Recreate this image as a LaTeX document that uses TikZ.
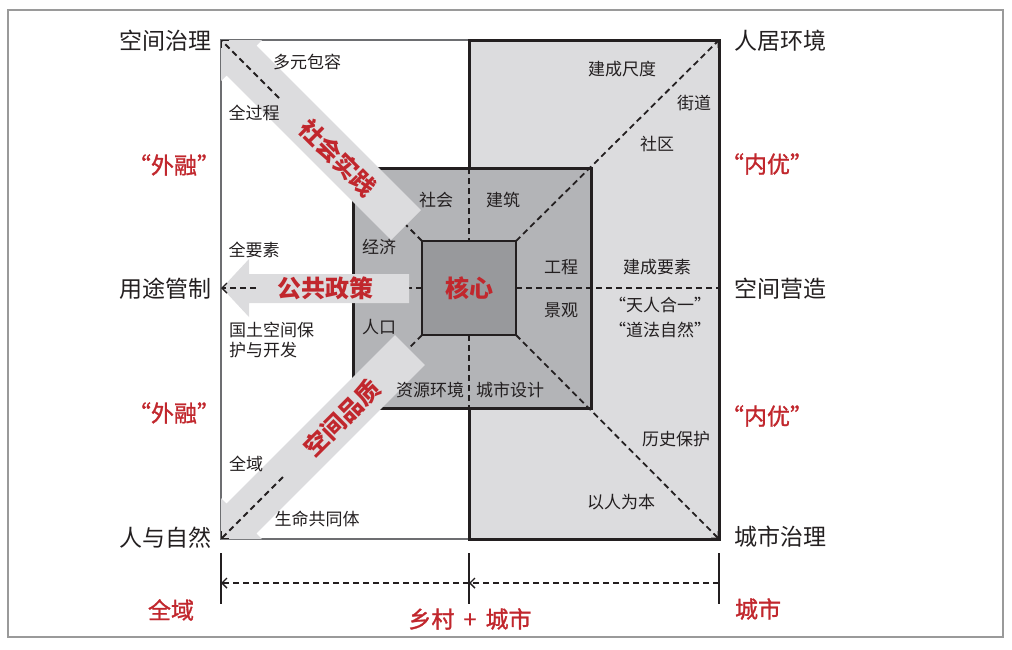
\documentclass[tikz,border=0pt]{standalone}
\usepackage{fontspec}
\setmainfont{Noto Sans CJK SC}
\newfontfamily\redf[FakeBold=1.2]{Noto Sans CJK SC}
\usetikzlibrary{arrows.meta}
\definecolor{ink}{HTML}{231F20}
\definecolor{redc}{HTML}{C1272D}
\definecolor{lightg}{HTML}{DCDCDE}
\definecolor{midg}{HTML}{B3B4B7}
\definecolor{coreg}{HTML}{98999C}
\definecolor{framec}{HTML}{9A9A9A}
\definecolor{edgeg}{HTML}{6D6E71}
\begin{document}
\begin{tikzpicture}[x=1pt,y=-1pt,
  lab/.style={text=ink,font=\fontsize{17}{19}\selectfont,inner sep=0pt},
  big/.style={text=ink,font=\fontsize{23}{25}\selectfont,inner sep=0pt},
  redlab/.style={text=redc,font=\redf\fontsize{23}{25}\selectfont,inner sep=0pt},
  redbold/.style={text=redc,font=\fontsize{24}{26}\selectfont\bfseries,inner sep=0pt},
  dline/.style={draw=ink,line width=1.8pt,dash pattern=on 6pt off 4pt},
  tipA/.style={-{Straight Barb[length=5pt,width=10pt,line width=1.4pt]}},
  band/.style={fill=lightg,draw=none},
  thickb/.style={draw=ink,line width=3pt,line join=miter},
]
\useasboundingbox (0,0) rectangle (1012,649);
% outer frame
\draw[framec,line width=1.5pt] (8,10) rectangle (1003,637);
% key points
\coordinate (LT) at (221,40);
\coordinate (LB) at (221,539);
\coordinate (LM) at (221,288);
\coordinate (RT) at (719,40);
\coordinate (RB) at (719,539);
\coordinate (RM) at (719,288);
\coordinate (cTL) at (422,241);
\coordinate (cTR) at (516,241);
\coordinate (cBL) at (422,335);
\coordinate (cBR) at (516,335);
\coordinate (cL) at (422,288);
\coordinate (cR) at (516,288);
\coordinate (cT) at (469,241);
\coordinate (cB) at (469,335);
\coordinate (mT) at (469,168);
\coordinate (mB) at (469,408);
% right box fill
\fill[lightg] (469,40) rectangle (719,539);
% middle square fill
\fill[midg] (353,168) rectangle (591,408);
% dashed guide lines
\draw[dline] (cTL) -- (LT);
\draw[dline] (cBL) -- (LB);
\draw[dline] (cL) -- (LM);
\draw[dline,tipA] (cTR) -- (RT);
\draw[dline,tipA] (cBR) -- (RB);
\draw[dline] (cR) -- (RM);
\draw[dline] (mT) -- (cT);
\draw[dline] (cB) -- (mB);
% left box outline
\draw[edgeg,line width=1.4pt] (469,40) -- (221,40) -- (221,539) -- (469,539);
% right box border
\draw[thickb] (mT) -- (469,40) -- (719,40) -- (719,539) -- (469,539) -- (mB);
% middle square border
\draw[thickb] (353,168) rectangle (591,408);
% core
\filldraw[fill=coreg,draw=ink,line width=2pt] (422,241) rectangle (516,335);
% block arrows
\fill[band] (222,288) -- (249,259) -- (249,274) -- (409,274) -- (409,303) -- (249,303) -- (249,317) -- cycle;
\fill[band] (221,40) -- (262,40) -- (256.4,45.6) -- (420.9,210.1) -- (391.1,239.9) -- (226.6,75.4) -- (221,81) -- cycle;
\fill[band] (221,539) -- (221,498) -- (226.6,503.6) -- (395.1,335.1) -- (424.9,364.9) -- (256.4,533.4) -- (262,539) -- cycle;
% short dashed arrows on the arrow heads
\coordinate (hT) at (279,98);
\coordinate (hB) at (283,477);
\coordinate (hM) at (256,288);
\draw[dline,tipA] (hT) -- (LT);
\draw[dline,tipA] (hB) -- (LB);
\draw[dline,tipA] (hM) -- (LM);
% arrow texts
\node[redbold] (pol) at (325,288) {公共政策};
\node[redbold,rotate=-45] (soc) at (338,158) {社会实践};
\node[redbold,rotate=45] (qual) at (342,418) {空间品质};
\node[redbold] (core) at (469,288) {核心};
% corner labels
\node[big,anchor=east] (g1) at (212,41) {空间治理};
\node[big,anchor=east] (g2) at (212,289) {用途管制};
\node[big,anchor=east] (g3) at (212,538) {人与自然};
\node[big,anchor=west] (g4) at (734,41) {人居环境};
\node[big,anchor=west] (g5) at (734,289) {空间营造};
\node[big,anchor=west] (g6) at (734,537) {城市治理};
\node[redlab] (w1) at (174,165) {“外融”};
\node[redlab] (w2) at (174,413) {“外融”};
\node[redlab] (n1) at (767,164) {“内优”};
\node[redlab] (n2) at (767,416) {“内优”};
% left box labels
\node[lab] (a1) at (307,62) {多元包容};
\node[lab] (a2) at (254,113) {全过程};
\node[lab] (a3) at (254,250) {全要素};
\node[lab,anchor=west,align=left] (a4) at (229,340) {国土空间保\\[1pt]护与开发};
\node[lab] (a5) at (246,464) {全域};
\node[lab] (a6) at (317,519) {生命共同体};
% middle labels
\node[lab] (b1) at (436,200) {社会};
\node[lab] (b2) at (503,200) {建筑};
\node[lab] (b3) at (379,247) {经济};
\node[lab] (b4) at (561,267) {工程};
\node[lab] (b5) at (561,310) {景观};
\node[lab] (b6) at (379,327) {人口};
\node[lab] (b7) at (430,390) {资源环境};
\node[lab] (b8) at (510,390) {城市设计};
% right box labels
\node[lab] (c1) at (622,69) {建成尺度};
\node[lab] (c2) at (694,103) {街道};
\node[lab] (c3) at (657,144) {社区};
\node[lab] (c4) at (657,267) {建成要素};
\node[lab] (c5) at (660,305) {“天人合一”};
\node[lab] (c6) at (660,330) {“道法自然”};
\node[lab] (c7) at (676,439) {历史保护};
\node[lab] (c8) at (621,502) {以人为本};
% bottom dimension
\coordinate (d1t) at (221,553); \coordinate (d1b) at (221,604);
\coordinate (d2t) at (469,553); \coordinate (d2b) at (469,604);
\coordinate (d3t) at (719,553); \coordinate (d3b) at (719,604);
\coordinate (e1) at (221,583); \coordinate (e2) at (469,583); \coordinate (e3) at (719,583);
\draw[ink,line width=2pt] (d1t) -- (d1b);
\draw[ink,line width=2pt] (d2t) -- (d2b);
\draw[ink,line width=2pt] (d3t) -- (d3b);
\draw[dline,line width=1.5pt,tipA] (e2) -- (e1);
\draw[dline,line width=1.5pt,tipA] (e3) -- (e2);
\node[redlab] (f1) at (171,610) {全域};
\node[redlab] (f2) at (470,619) {乡村\hspace{0.4em}+\hspace{0.4em}城市};
\node[redlab] (f3) at (758,609) {城市};
\end{tikzpicture}
\end{document}
